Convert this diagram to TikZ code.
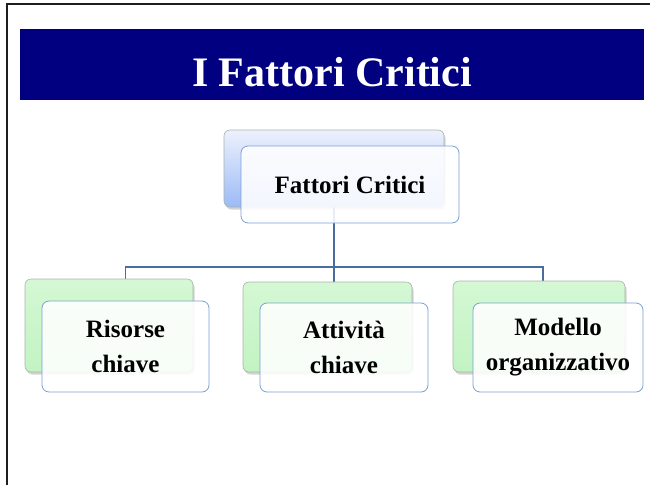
\documentclass[tikz,border=0pt]{standalone}
\usepackage{fontspec}
\setmainfont{Liberation Serif}
\usetikzlibrary{shadows,backgrounds}
\definecolor{navybar}{HTML}{000080}
\definecolor{conn}{HTML}{4A6C9E}
\definecolor{frontborder}{HTML}{7BA0D6}
\definecolor{bluetop}{HTML}{EDF1FC}
\definecolor{bluebot}{HTML}{9CBAF6}
\definecolor{greentop}{HTML}{D4F8D4}
\definecolor{greenbot}{HTML}{C2F3C2}
\definecolor{backborder}{HTML}{A9B3A9}
\definecolor{frameline}{HTML}{1E1E1E}
\begin{document}
\begin{tikzpicture}[x=1pt,y=-1pt,
  backbox/.style={rounded corners=6pt, draw=backborder, line width=0.6pt, inner sep=0pt, outer sep=0pt,
    drop shadow={shadow xshift=1.5pt, shadow yshift=-2.5pt, opacity=0.35, fill=gray}},
  blueback/.style={backbox, top color=bluetop, bottom color=bluebot},
  greenback/.style={backbox, top color=greentop, bottom color=greenbot},
  frontbox/.style={rounded corners=7pt, draw=frontborder, line width=0.8pt, fill=white, fill opacity=0.88,
    text opacity=1, inner sep=0pt, outer sep=0pt, align=center, text=black,
    font=\bfseries\fontsize{25}{35}\selectfont},
  connector/.style={draw=conn, line width=1.6pt},
  framel/.style={draw=frameline, line width=2.2pt}
]
\useasboundingbox (0,0) rectangle (650,485);

% frame
\draw[framel] (7,485) -- (7,4.3) -- (650,4.3);

% title bar
\node[fill=navybar, minimum width=624pt, minimum height=71pt, inner sep=0pt, anchor=north west] (bar) at (20,29) {};
\node[anchor=base, text=white, font=\bfseries\fontsize{42}{50}\selectfont, inner sep=0pt] (title) at (332,86) {I Fattori Critici};

% top box
\node[blueback, minimum width=220pt, minimum height=77pt] (topback) at (334,168.5) {};
\node[frontbox, minimum width=218pt, minimum height=77pt] (topfront) at (350,184.5) {Fattori Critici};

% bottom boxes
\node[greenback, minimum width=168pt, minimum height=93pt] (leftback) at (109,325.5) {};
\node[frontbox, minimum width=167pt, minimum height=91pt] (leftfront) at (125.5,346.5) {Risorse\\chiave};

\node[greenback, minimum width=169pt, minimum height=90pt] (midback) at (327.5,327) {};
\node[frontbox, minimum width=168pt, minimum height=89pt] (midfront) at (344,347.5) {Attività\\chiave};

\node[greenback, minimum width=172pt, minimum height=91pt] (rightback) at (539,326.5) {};
\node[frontbox, minimum width=170pt, minimum height=89pt] (rightfront) at (558,347.5) {Modello\\organizzativo};

% connectors
\coordinate (busL) at (125.5,267);
\coordinate (busM) at (334,267);
\coordinate (busR) at (543,267);
\begin{pgfonlayer}{background}
\draw[connector] (topback.south) -- (busM);
\draw[connector] (busL |- leftback.north) -- (busL) -- (busR) -- (busR |- rightback.north);
\draw[connector] (busM) -- (busM |- midback.north);
\end{pgfonlayer}
\end{tikzpicture}
\end{document}
